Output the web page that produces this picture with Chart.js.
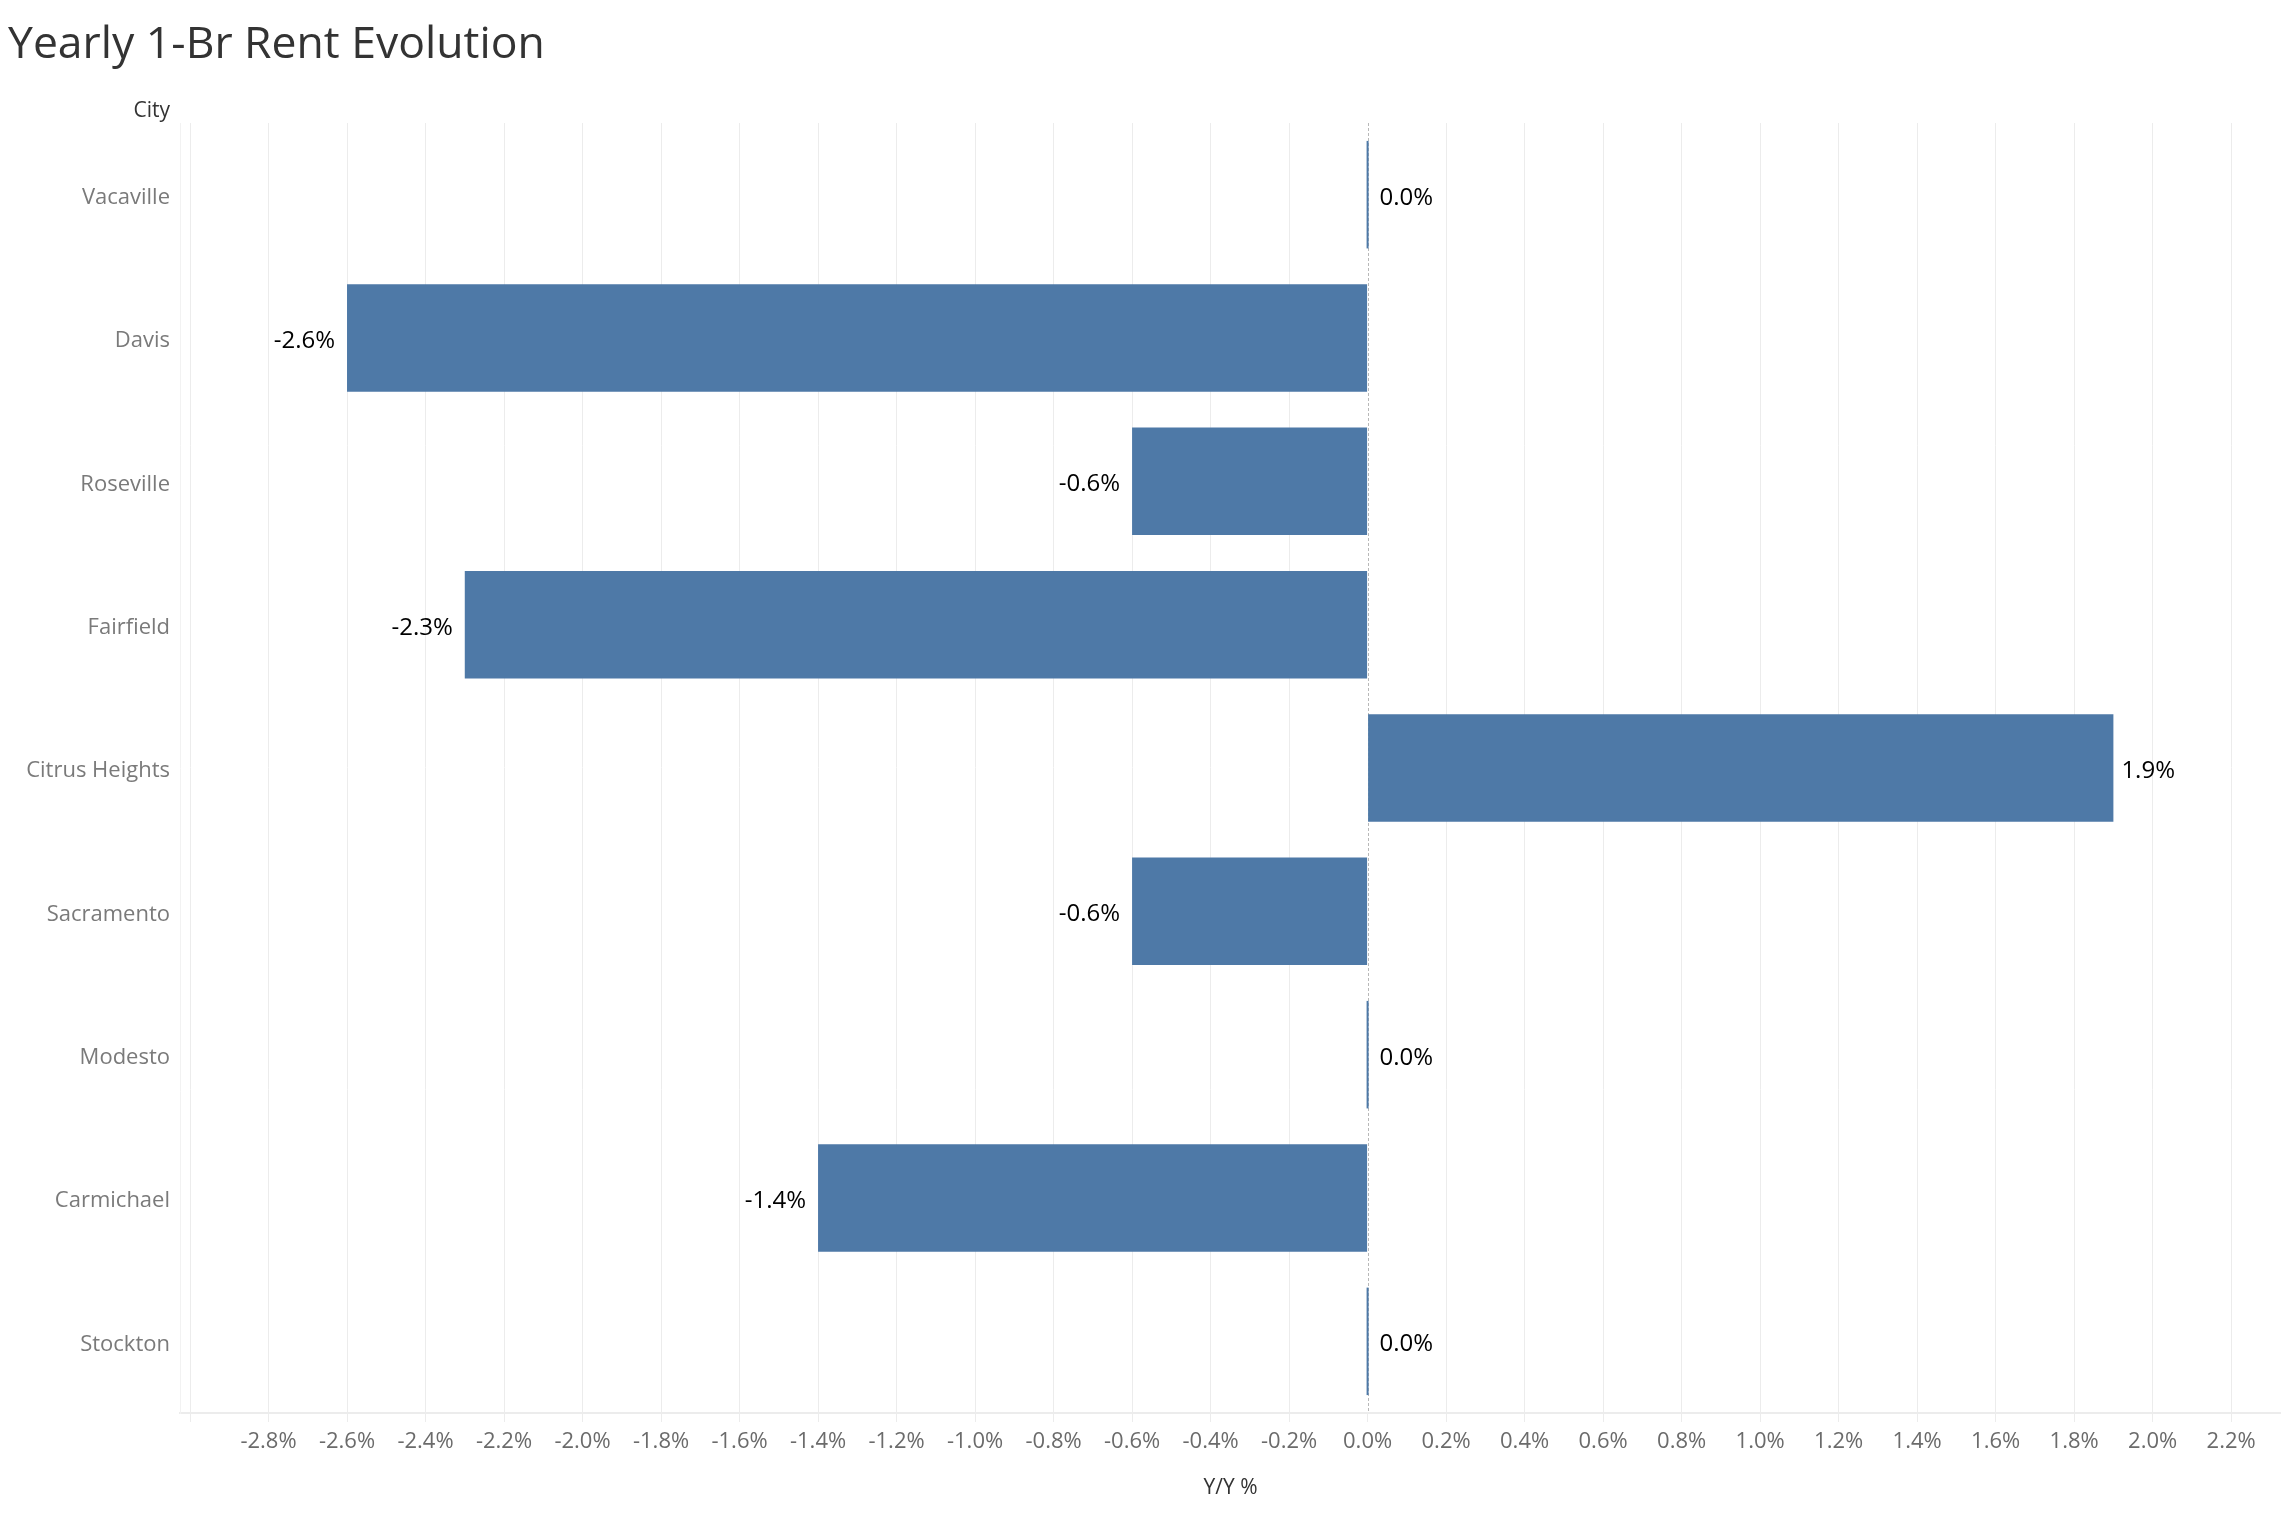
<!DOCTYPE html>
<html>
<head>
<meta charset="utf-8">
<script src="https://cdn.jsdelivr.net/npm/chart.js@4"></script>
<style>
  html, body { margin: 0; padding: 0; background: #ffffff; }
  #wrap { position: relative; width: 2281px; height: 1514px; }
</style>
</head>
<body>
<div id="wrap"><canvas id="c"></canvas></div>
<script>
// ---- data ----
const cities = ['Vacaville', 'Davis', 'Roseville', 'Fairfield', 'Citrus Heights', 'Sacramento', 'Modesto', 'Carmichael', 'Stockton'];
const yoyChange = [0.0, -2.6, -0.6, -2.3, 1.9, -0.6, 0.0, -1.4, 0.0];
const xTickValues = [-3.0, -2.8, -2.6, -2.4, -2.2, -2.0, -1.8, -1.6, -1.4, -1.2, -1.0, -0.8, -0.6, -0.4, -0.2, 0.0, 0.2, 0.4, 0.6, 0.8, 1.0, 1.2, 1.4, 1.6, 1.8, 2.0, 2.2];
const xTickLabels = ['', '-2.8%', '-2.6%', '-2.4%', '-2.2%', '-2.0%', '-1.8%', '-1.6%', '-1.4%', '-1.2%', '-1.0%', '-0.8%', '-0.6%', '-0.4%', '-0.2%', '0.0%', '0.2%', '0.4%', '0.6%', '0.8%', '1.0%', '1.2%', '1.4%', '1.6%', '1.8%', '2.0%', '2.2%'];
const chartTitle = 'Yearly 1-Br Rent Evolution';
const rowHeader = 'City';
const xAxisTitle = 'Y/Y %';

Chart.defaults.font.family = "'Open Sans', 'Noto Sans', sans-serif";

const zeroLine = {
  id: 'zeroLine',
  beforeDatasetsDraw(chart) {
    const {ctx, chartArea, scales} = chart;
    const x = Math.round(scales.x.getPixelForValue(0)) + 0.5;
    ctx.save();
    ctx.strokeStyle = '#b8b8b8';
    ctx.lineWidth = 1;
    ctx.setLineDash([3, 2]);
    ctx.beginPath();
    ctx.moveTo(x, chartArea.top);
    ctx.lineTo(x, chartArea.bottom);
    ctx.stroke();
    ctx.restore();
  }
};

const barLabels = {
  id: 'barLabels',
  afterDatasetsDraw(chart) {
    const {ctx} = chart;
    const meta = chart.getDatasetMeta(0);
    const data = chart.data.datasets[0].data;
    ctx.save();
    ctx.font = "24px 'Open Sans', sans-serif";
    ctx.fillStyle = '#000000';
    ctx.textBaseline = 'middle';
    meta.data.forEach((el, i) => {
      const v = data[i];
      const txt = v.toFixed(1) + '%';
      if (v >= 0) {
        ctx.textAlign = 'left';
        ctx.fillText(txt, Math.max(el.x, el.base) + (v === 0 ? 11 : 8), el.y + 3);
      } else {
        ctx.textAlign = 'right';
        ctx.fillText(txt, el.x - 12, el.y + 3);
      }
    });
    ctx.restore();
  }
};

const rowHeaderPlugin = {
  id: 'rowHeader',
  afterDraw(chart) {
    const {ctx, chartArea} = chart;
    ctx.save();
    ctx.font = "21px 'Open Sans', sans-serif";
    ctx.fillStyle = '#333333';
    ctx.textAlign = 'right';
    ctx.textBaseline = 'middle';
    ctx.fillText(rowHeader, chartArea.left - 10, 111);
    ctx.restore();
  }
};

new Chart(document.getElementById('c'), {
  type: 'bar',
  data: {
    labels: cities,
    datasets: [{
      data: yoyChange,
      backgroundColor: '#4e79a7',
      borderWidth: 0,
      barPercentage: 0.75,
      categoryPercentage: 1.0,
      minBarLength: 2
    }]
  },
  options: {
    indexAxis: 'y',
    responsive: true,
    maintainAspectRatio: false,
    animation: false,
    devicePixelRatio: 1,
    layout: { padding: { left: 8, right: 0, top: 0, bottom: 0 } },
    plugins: {
      legend: { display: false },
      tooltip: { enabled: false },
      title: {
        display: true,
        text: chartTitle,
        align: 'start',
        color: '#333333',
        font: { size: 44.5, weight: 'normal' },
        padding: { top: 19, bottom: 50.6 }
      }
    },
    scales: {
      x: {
        type: 'linear',
        position: 'bottom',
        min: -3.0255,
        max: 2.327,
        bounds: 'data',
        afterBuildTicks(scale) {
          scale.ticks = xTickValues.map(v => ({ value: v }));
        },
        afterFit(scale) { scale.height = 101; },
        grid: {
          color: (c) => (c.tick && Math.abs(c.tick.value) < 1e-9) ? 'rgba(0,0,0,0)' : '#ececec',
          lineWidth: 1,
          drawTicks: true,
          tickLength: 9,
          tickColor: '#ececec'
        },
        border: { display: true, color: '#ececec', width: 2 },
        ticks: {
          autoSkip: false,
          maxRotation: 0,
          padding: 7,
          color: '#6b6b6b',
          font: { size: 22 },
          callback: (value, index) => xTickLabels[index]
        },
        title: {
          display: true,
          text: xAxisTitle,
          color: '#333333',
          font: { size: 21 },
          padding: { top: 0, bottom: 13 }
        }
      },
      y: {
        type: 'category',
        position: 'left',
        afterFit(scale) { scale.width = 172; },
        grid: { display: false, drawTicks: false },
        border: { display: true, color: '#f2f2f2', width: 1 },
        ticks: {
          padding: 10,
          labelOffset: 3,
          color: '#7a7a7a',
          font: { size: 22 }
        }
      }
    }
  },
  plugins: [zeroLine, barLabels, rowHeaderPlugin]
});
</script>
</body>
</html>
